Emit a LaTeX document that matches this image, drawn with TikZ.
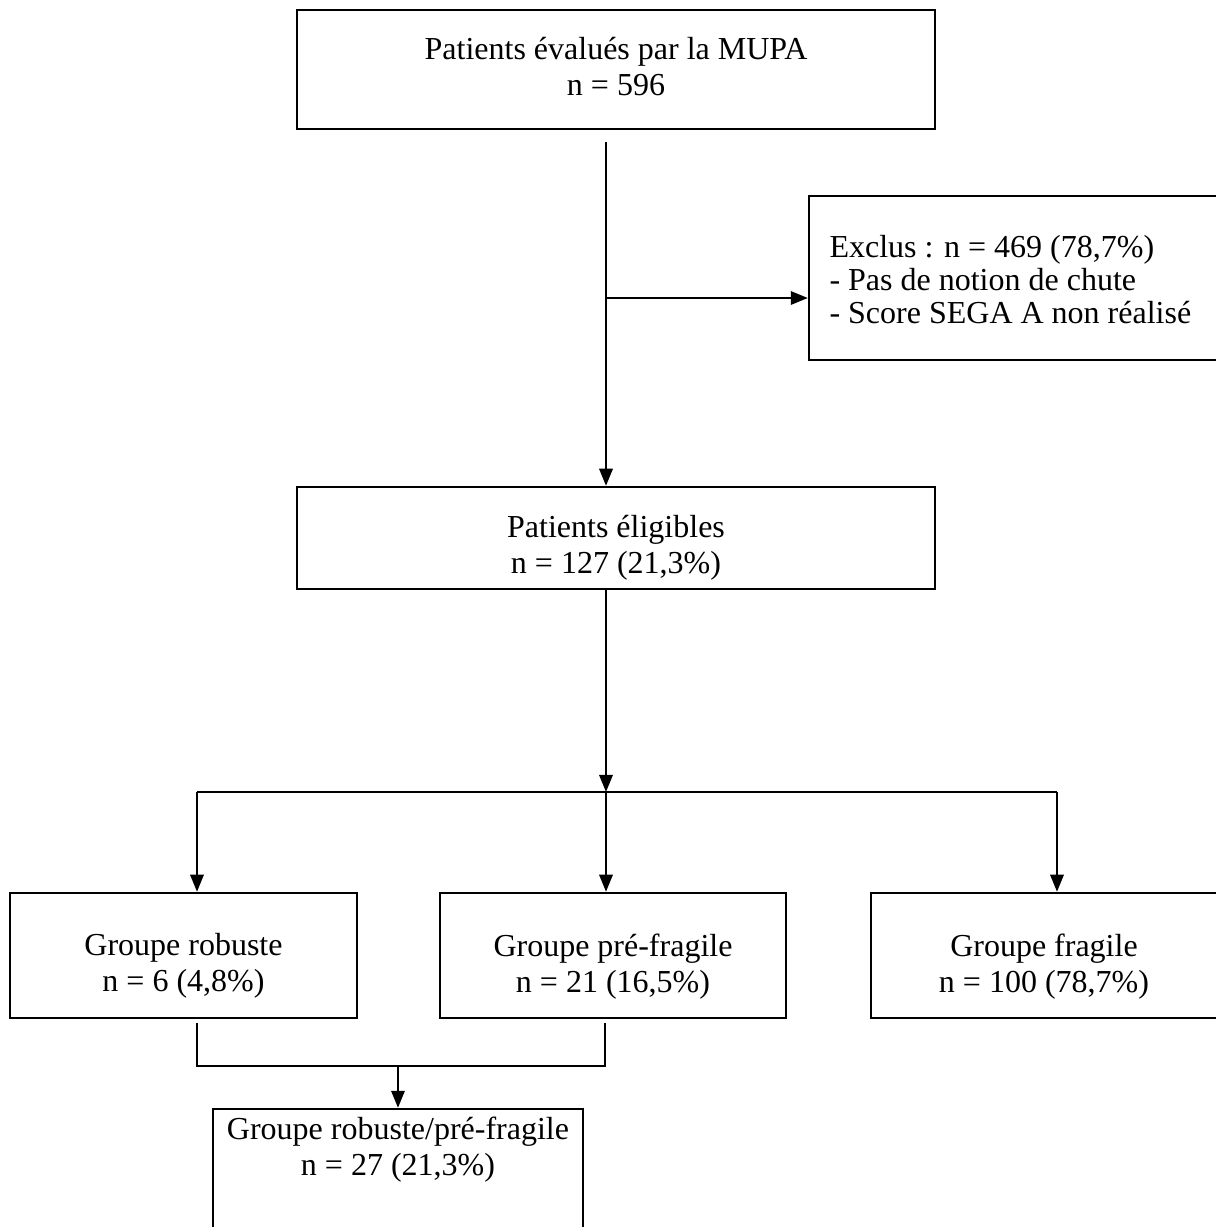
\documentclass[tikz,border=0pt]{standalone}
\usepackage{fontspec}
\setmainfont{Liberation Serif}
\usetikzlibrary{arrows.meta}

\tikzset{
  box/.style={draw, line width=0.9pt, inner sep=0pt, rectangle},
  txt/.style={inner sep=0pt, align=center, font=\fontsize{12}{13.5}\selectfont},
  txtl/.style={inner sep=0pt, align=left, font=\fontsize{12}{12.4}\selectfont},
  arr/.style={line width=0.85pt, -{Triangle[length=6.4pt, width=5pt]}},
  thin/.style={line width=0.45pt},
}

\begin{document}
\begin{tikzpicture}[x=0.375pt, y=-0.375pt]
\useasboundingbox (0,0) rectangle (1216,1227);
\clip (0,0) rectangle (1216,1227);

% frames
\node[box, minimum width=239.25pt, minimum height=44.6pt] (top) at (616,69.5) {};
\node[box, minimum width=184.1pt, minimum height=61.5pt] (excl) at (1054.5,278) {};
\node[box, minimum width=239.25pt, minimum height=38.25pt] (elig) at (616,538) {};
\node[box, minimum width=130.1pt, minimum height=46.9pt] (rob) at (183.5,955.5) {};
\node[box, minimum width=129.75pt, minimum height=46.9pt] (pre) at (613,955.5) {};
\node[box, minimum width=129.75pt, minimum height=46.9pt] (fra) at (1044,955.5) {};
\node[box, minimum width=138.75pt, minimum height=56.6pt] (comb) at (398,1184.5) {};

% texts
\node[txt, anchor=north] (top-t) at (616,37) {Patients évalués par la MUPA\\n = 596};
\node[txtl, anchor=north west] (excl-t) at (829,235) {Exclus : n = 469 (78,7\%)\\- Pas de notion de chute\\- Score SEGA A non réalisé};
\node[txt, anchor=north] (elig-t) at (616,515) {Patients éligibles\\n = 127 (21,3\%)};
\node[txt, anchor=north] (rob-t) at (183.5,933) {Groupe robuste\\n = 6 (4,8\%)};
\node[txt, anchor=north] (pre-t) at (613,933) {Groupe pré-fragile\\n = 21 (16,5\%)};
\node[txt, anchor=north] (fra-t) at (1044,933) {Groupe fragile\\n = 100 (78,7\%)};
\node[txt, anchor=north] (comb-t) at (398,1116) {Groupe robuste/pré-fragile\\n = 27 (21,3\%)};

% connector points
\coordinate (s1) at (606,142);
\coordinate (b1) at (606,298);
\coordinate (sp) at (606,792);
\coordinate (spL) at (197,792);
\coordinate (spR) at (1057,792);
\coordinate (jL) at (197,1023);
\coordinate (jR) at (605,1023);
\coordinate (jLb) at (197,1066);
\coordinate (jRb) at (605,1066);
\coordinate (jM) at (398,1066);

% main flow
\draw[arr] (s1) -- (s1 |- elig.north);
\draw[arr] (b1) -- (b1 -| excl.west);
\draw[arr] (sp |- elig.south) -- (sp);

% split into the three groups
\draw[thin] (spL) -- (spR);
\draw[arr] (spL) -- (spL |- rob.north);
\draw[arr] (sp) -- (sp |- pre.north);
\draw[arr] (spR) -- (spR |- fra.north);

% merge of robust and pre-frail groups
\draw[thin] (jL) -- (jLb) -- (jRb) -- (jR);
\draw[arr] (jM) -- (jM |- comb.north);
\end{tikzpicture}
\end{document}
